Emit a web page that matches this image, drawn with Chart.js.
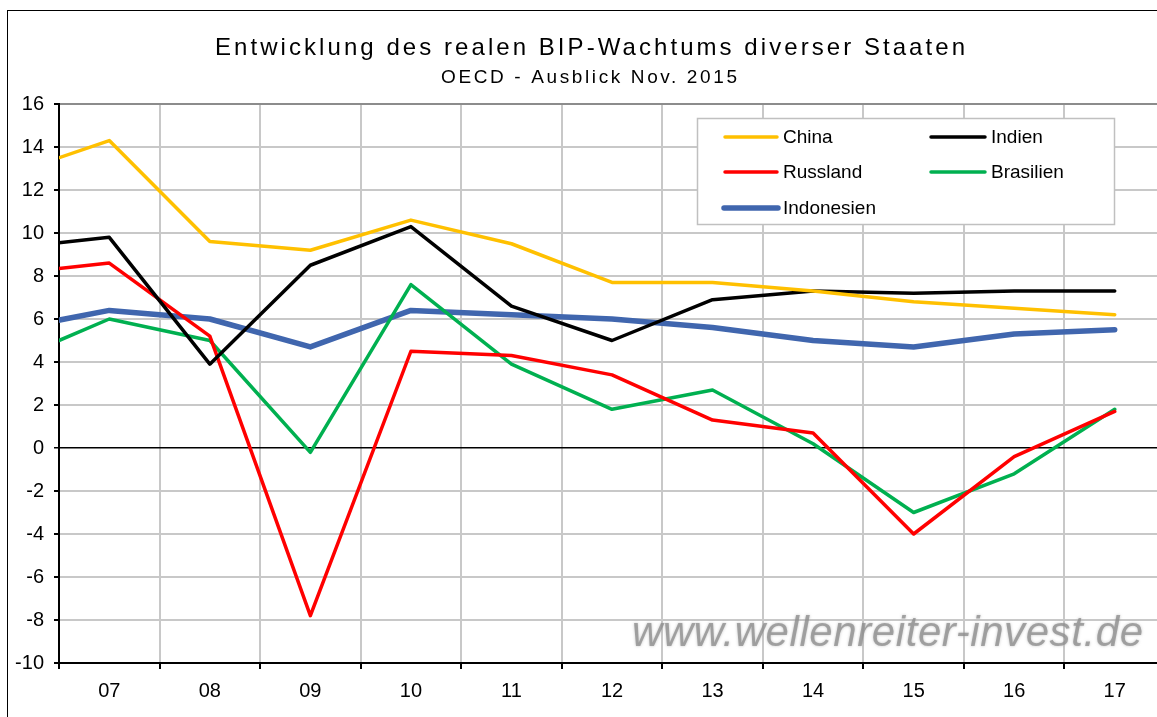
<!DOCTYPE html>
<html>
<head>
<meta charset="utf-8">
<script src="https://cdn.jsdelivr.net/npm/chart.js@4"></script>
<style>
  html, body { margin: 0; padding: 0; background: #fff; overflow: hidden; }
  #wrap { position: relative; width: 1175px; height: 717px; }
</style>
</head>
<body>
<div id="wrap"><canvas id="chart"></canvas></div>
<script>
// years (06 only feeds the clipped first segment)
const years = ['06', '07', '08', '09', '10', '11', '12', '13', '14', '15', '16', '17'];

const china      = [12.7, 14.3, 9.6, 9.2, 10.6, 9.5, 7.7, 7.7, 7.3, 6.8, 6.5, 6.2];
const indien     = [9.3, 9.8, 3.9, 8.5, 10.3, 6.6, 5.0, 6.9, 7.3, 7.2, 7.3, 7.3];
const russland   = [8.1, 8.6, 5.2, -7.8, 4.5, 4.3, 3.4, 1.3, 0.7, -4.0, -0.4, 1.7];
const brasilien  = [4.0, 6.0, 5.0, -0.2, 7.6, 3.9, 1.8, 2.7, 0.2, -3.0, -1.2, 1.8];
const indonesien = [5.5, 6.4, 6.0, 4.7, 6.4, 6.2, 6.0, 5.6, 5.0, 4.7, 5.3, 5.5];

const yTicks = [-10, -8, -6, -4, -2, 0, 2, 4, 6, 8, 10, 12, 14, 16];

const toPoints = arr => arr.map((v, i) => ({ x: 6 + i, y: v }));

const series = [
  { label: 'China', data: china, color: '#ffc000', width: 3.5 },
  { label: 'Indien', data: indien, color: '#000000', width: 3.5 },
  { label: 'Russland', data: russland, color: '#ff0000', width: 3.5 },
  { label: 'Brasilien', data: brasilien, color: '#00b050', width: 3.5 },
  { label: 'Indonesien', data: indonesien, color: '#4066ae', width: 5.5 }
];

const FONT = '"Liberation Sans", Arial, sans-serif';

function fitText(ctx, text, x, y, width) {
  ctx.letterSpacing = '0px';
  const w = ctx.measureText(text).width;
  const sp = (width - w) / (text.length - 1);
  ctx.letterSpacing = sp + 'px';
  ctx.textAlign = 'left';
  ctx.fillText(text, x, y);
  ctx.letterSpacing = '0px';
}

const decor = {
  id: 'decor',
  beforeDatasetsDraw(chart) {
    const ctx = chart.ctx;
    ctx.save();
    // watermark
    ctx.font = 'italic 42px ' + FONT;
    ctx.fillStyle = 'rgba(140,140,140,0.75)';
    ctx.shadowColor = 'rgba(160,160,160,0.8)';
    ctx.shadowBlur = 3;
    ctx.textBaseline = 'alphabetic';
    fitText(ctx, 'www.wellenreiter-invest.de', 632, 646, 511);
    ctx.restore();
  },
  afterDraw(chart) {
    const ctx = chart.ctx;
    ctx.save();
    // outer frame
    ctx.strokeStyle = '#000';
    ctx.lineWidth = 1;
    ctx.strokeRect(7.5, 10.5, 1400, 1000);

    // titles
    ctx.fillStyle = '#000';
    ctx.textBaseline = 'alphabetic';
    ctx.font = '24px ' + FONT;
    fitText(ctx, 'Entwicklung des realen BIP-Wachtums diverser Staaten', 215, 55, 750);
    ctx.font = '19px ' + FONT;
    fitText(ctx, 'OECD - Ausblick Nov. 2015', 441, 83, 296);

    // legend box
    ctx.fillStyle = '#fff';
    ctx.fillRect(697, 118, 417, 106);
    ctx.strokeStyle = '#c0c0c0';
    ctx.lineWidth = 1.5;
    ctx.strokeRect(697.5, 118.5, 417, 106);

    const slots = [
      { x1: 725, x2: 777, tx: 783, y: 137 },
      { x1: 931, x2: 985, tx: 991, y: 137 },
      { x1: 725, x2: 777, tx: 783, y: 172 },
      { x1: 931, x2: 985, tx: 991, y: 172 },
      { x1: 724, x2: 778, tx: 783, y: 208 }
    ];
    ctx.font = '19px ' + FONT;
    ctx.textBaseline = 'middle';
    chart.data.datasets.forEach((ds, i) => {
      const s = slots[i];
      ctx.strokeStyle = ds.borderColor;
      ctx.lineWidth = ds.borderWidth;
      ctx.lineCap = 'round';
      ctx.beginPath();
      ctx.moveTo(s.x1, s.y);
      ctx.lineTo(s.x2, s.y);
      ctx.stroke();
      ctx.fillStyle = '#000';
      ctx.textAlign = 'left';
      ctx.fillText(ds.label, s.tx, s.y + 1);
    });
    ctx.restore();
  }
};

new Chart(document.getElementById('chart'), {
  type: 'line',
  data: {
    datasets: series.map(s => ({
      label: s.label,
      data: toPoints(s.data),
      borderColor: s.color,
      backgroundColor: s.color,
      borderWidth: s.width,
      pointRadius: 0,
      tension: 0,
      fill: false,
      clip: 0,
      borderJoinStyle: 'round',
      borderCapStyle: 'round'
    }))
  },
  options: {
    responsive: true,
    maintainAspectRatio: false,
    animation: false,
    events: [],
    layout: { padding: { top: 104, left: 0, right: 10, bottom: 9 } },
    plugins: {
      legend: { display: false },
      title: { display: false },
      tooltip: { enabled: false }
    },
    scales: {
      x: {
        type: 'linear',
        min: 6.5,
        max: 17.5,
        afterFit: s => { s.height = 45; },
        border: { display: true, color: '#000', width: 2 },
        grid: {
          drawOnChartArea: true,
          tickLength: 6,
          lineWidth: 2,
          color: c => (c.tick && Number.isInteger(c.tick.value)) ? 'rgba(0,0,0,0)' : '#c8c8c8',
          tickColor: c => (c.tick && Number.isInteger(c.tick.value)) ? 'rgba(0,0,0,0)' : '#000'
        },
        ticks: {
          stepSize: 0.5,
          autoSkip: false,
          maxRotation: 0,
          padding: 10,
          color: '#000',
          font: { family: FONT, size: 20 },
          callback: v => Number.isInteger(v) ? years[v - 6] : ''
        }
      },
      y: {
        min: yTicks[0],
        max: yTicks[yTicks.length - 1],
        afterFit: s => { s.width = 59; },
        afterBuildTicks: s => { s.ticks = yTicks.map(v => ({ value: v })); },
        border: { display: true, color: '#000', width: 2 },
        grid: {
          tickLength: 5,
          lineWidth: c => (c.tick && c.tick.value === 0) ? 1.5 : 2,
          color: c => {
            if (!c.tick) return '#c8c8c8';
            if (c.tick.value === 0) return '#000';
            if (c.tick.value === 16) return '#8c8c8c';
            return '#c8c8c8';
          },
          tickColor: '#000'
        },
        ticks: {
          padding: 10,
          color: '#000',
          font: { family: FONT, size: 20 }
        }
      }
    }
  },
  plugins: [decor]
});
</script>
</body>
</html>
